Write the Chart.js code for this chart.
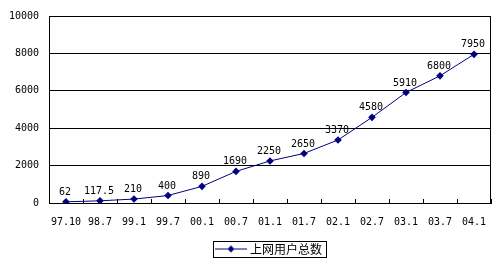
<!DOCTYPE html>
<html><head><meta charset="utf-8">
<script src="https://cdn.jsdelivr.net/npm/chart.js@4"></script>
<style>html,body{margin:0;padding:0;background:#fff}#wrap{width:496px;height:262px}</style>
</head><body><div id="wrap"><canvas id="c" width="496" height="262"></canvas></div>
<script>
const categories = ['97.10','98.7','99.1','99.7','00.1','00.7','01.1','01.7','02.1','02.7','03.1','03.7','04.1'];
const seriesName = '上网用户总数';
const values = [62, 117.5, 210, 400, 890, 1690, 2250, 2650, 3370, 4580, 5910, 6800, 7950];
const valueLabels = ['62','117.5','210','400','890','1690','2250','2650','3370','4580','5910','6800','7950'];
const yTicks = [0, 2000, 4000, 6000, 8000, 10000];

const NAVY = '#000080';
const FONT = '"DejaVu Sans Mono", monospace';

const sym = document.createElement('canvas');
sym.width = 32; sym.height = 9;
(function(){
  const g = sym.getContext('2d');
  g.strokeStyle = NAVY; g.lineWidth = 1;
  g.beginPath(); g.moveTo(0, 4.5); g.lineTo(32, 4.5); g.stroke();
  g.fillStyle = NAVY;
  g.beginPath(); g.moveTo(16, 1); g.lineTo(19.5, 4.5); g.lineTo(16, 8); g.lineTo(12.5, 4.5); g.closePath(); g.fill();
})();

const SHIFT_X = 24.5, SHIFT_Y = -5;
const framePlugin = {
  id: 'frame',
  afterUpdate(chart) {
    const lg = chart.legend;
    if (!lg) return;
    lg.left += SHIFT_X; lg.right += SHIFT_X;
    lg.top += SHIFT_Y; lg.bottom += SHIFT_Y;
    lg.legendHitBoxes.forEach(h => { h.left += SHIFT_X; h.top += SHIFT_Y; });
  },
  afterDatasetsDraw(chart) {
    const ctx = chart.ctx;
    const meta = chart.getDatasetMeta(0);
    ctx.save();
    ctx.fillStyle = '#000';
    ctx.font = '10px ' + FONT;
    ctx.textAlign = 'center';
    ctx.textBaseline = 'middle';
    meta.data.forEach((pt, i) => { ctx.fillText(valueLabels[i], pt.x - 1, pt.y - 9.5); });
    ctx.restore();
  },
  afterDraw(chart) {
    const a = chart.chartArea, ctx = chart.ctx;
    ctx.save();
    ctx.strokeStyle = '#000'; ctx.lineWidth = 1;
    ctx.beginPath();
    const R = Math.round(a.right) - 0.5, T = Math.round(a.top) + 0.5;
    ctx.moveTo(R, T); ctx.lineTo(R, Math.round(a.bottom));
    ctx.stroke();
    const lg = chart.legend;
    if (lg && lg.legendHitBoxes.length) {
      const hb = lg.legendHitBoxes[0];
      const cy = hb.top + hb.height / 2;
      const L = Math.round(hb.left) - 5 + 0.5;
      ctx.strokeRect(L, Math.round(cy - 8) + 0.5, Math.round(hb.width) + 9, 16);
    }
    ctx.restore();
  }
};

new Chart(document.getElementById('c'), {
  type: 'line',
  data: {
    labels: categories,
    datasets: [{
      label: seriesName,
      data: values,
      borderColor: NAVY,
      backgroundColor: NAVY,
      borderWidth: 1,
      tension: 0,
      pointStyle: 'rectRot',
      pointRadius: 3.8,
      pointBorderWidth: 0,
      pointBackgroundColor: NAVY
    }]
  },
  options: {
    responsive: false,
    animation: false,
    devicePixelRatio: 1,
    layout: { padding: { top: 16, right: 5, left: 0, bottom: -8 } },
    plugins: {
      legend: {
        position: 'bottom',
        labels: {
          usePointStyle: true,
          pointStyle: sym,
          pointStyleWidth: 26,
          boxHeight: 9,
          color: '#000',
          padding: 3,
          font: { family: '"Noto Sans CJK SC", sans-serif', size: 12 }
        }
      },
      tooltip: { enabled: false }
    },
    scales: {
      x: {
        type: 'category',
        offset: true,
        afterFit(s) { s.paddingLeft = 0; s.paddingRight = 0; },
        grid: { display: true, drawOnChartArea: false, drawTicks: true, tickLength: -4, color: '#000', offset: true },
        border: { display: true, color: '#000' },
        ticks: { color: '#000', font: { family: FONT, size: 10 }, padding: 17, maxRotation: 0, autoSkip: false }
      },
      y: {
        min: 0, max: 10000,
        afterBuildTicks(s) { s.ticks = yTicks.map(v => ({ value: v })); },
        afterFit(s) { s.width = 49; },
        grid: { color: '#000', drawTicks: false, lineWidth: 1 },
        border: { display: true, color: '#000' },
        ticks: { color: '#000', font: { family: FONT, size: 10 }, padding: 10, callback: (v) => String(v) }
      }
    }
  },
  plugins: [framePlugin]
});
</script>
</body></html>
